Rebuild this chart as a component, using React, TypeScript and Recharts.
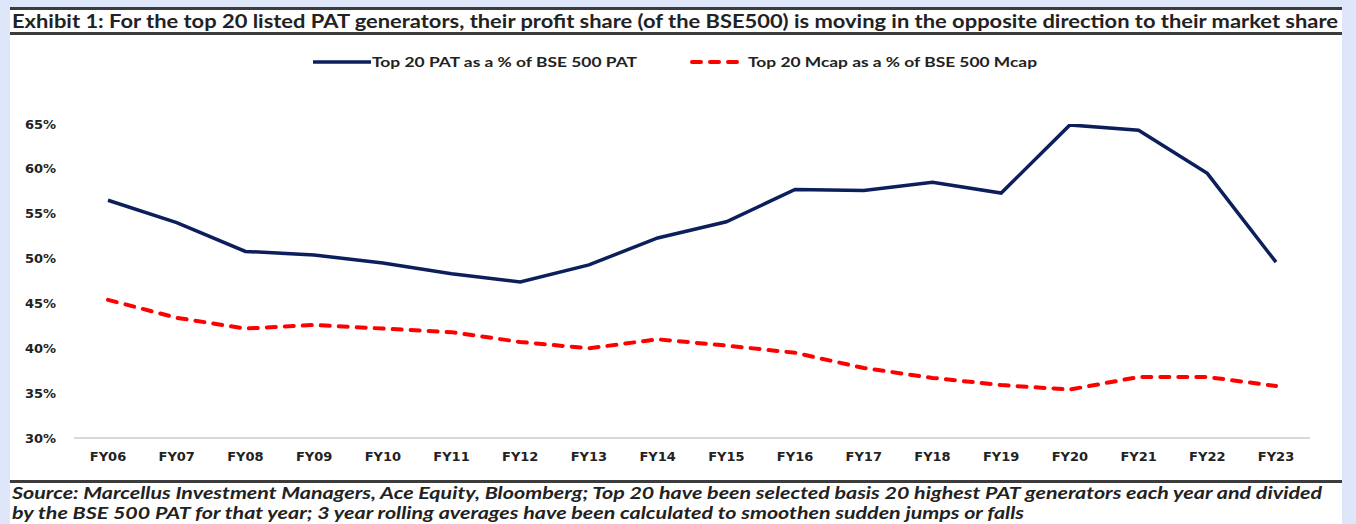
import React from 'react';
import { LineChart, Line, XAxis, YAxis } from 'recharts';

const categories = ['FY06', 'FY07', 'FY08', 'FY09', 'FY10', 'FY11', 'FY12', 'FY13', 'FY14', 'FY15', 'FY16', 'FY17', 'FY18', 'FY19', 'FY20', 'FY21', 'FY22', 'FY23'];
const patShare = [56.5, 54.0, 50.8, 50.4, 49.5, 48.3, 47.4, 49.3, 52.3, 54.1, 57.7, 57.6, 58.5, 57.3, 64.9, 64.3, 59.5, 49.6];
const mcapShare = [45.4, 43.4, 42.2, 42.6, 42.2, 41.8, 40.7, 40.0, 41.0, 40.3, 39.5, 37.8, 36.7, 35.9, 35.4, 36.8, 36.8, 35.8];
const yTicks = [30, 35, 40, 45, 50, 55, 60, 65];

const seriesNames = ['Top 20 PAT as a % of BSE 500 PAT', 'Top 20 Mcap as a % of BSE 500 Mcap'];
const titleText = 'Exhibit 1: For the top 20 listed PAT generators, their profit share (of the BSE500) is moving in the opposite direction to their market share';
const footerLines = [
  'Source: Marcellus Investment Managers, Ace Equity, Bloomberg; Top 20 have been selected basis 20 highest PAT generators each year and divided',
  'by the BSE 500 PAT for that year; 3 year rolling averages have been calculated to smoothen sudden jumps or falls',
];

const data = categories.map((c, i) => ({ cat: c, pat: patShare[i], mcap: mcapShare[i] }));

const NAVY = '#0c1f5c';
const RED = '#ff0000';
const TEXT = '#222222';

export default function App() {
  return (
    <div style={{ position: 'absolute', left: 0, top: 0, width: 1356, height: 524, background: '#dde7f9', overflow: 'hidden' }}>
      <div style={{ position: 'absolute', left: 10, top: 7, width: 1332, height: 517, background: '#ffffff' }} />
      <svg style={{ position: 'absolute', left: 0, top: 0 }} width={1356} height={524}>
        <rect x={10} y={7} width={1332} height={3} fill="#3c3c3c" />
        <rect x={10} y={32} width={1332} height={3} fill="#3c3c3c" />
        <text x={12} y={28} fontFamily="Lato, 'Open Sans', sans-serif" fontWeight={700} fontSize={18} fill={TEXT}
          textLength={1326} lengthAdjust="spacingAndGlyphs">{titleText}</text>
        <line x1={313} y1={62} x2={371} y2={62} stroke={NAVY} strokeWidth={3.5} />
        <text x={372} y={66.5} fontFamily="Lato, 'Open Sans', sans-serif" fontWeight={700} fontSize={13} fill={TEXT}
          textLength={265} lengthAdjust="spacingAndGlyphs">{seriesNames[0]}</text>
        <line x1={692} y1={62} x2={745} y2={62} stroke={RED} strokeWidth={4} strokeDasharray="9 9" strokeLinecap="round" />
        <text x={748} y={66.5} fontFamily="Lato, 'Open Sans', sans-serif" fontWeight={700} fontSize={13} fill={TEXT}
          textLength={289} lengthAdjust="spacingAndGlyphs">{seriesNames[1]}</text>
        <rect x={10} y={480} width={1332} height={3} fill="#3c3c3c" />
        <text x={12} y={499} fontFamily="Lato, 'Open Sans', sans-serif" fontWeight={700} fontStyle="italic" fontSize={17} fill={TEXT}
          textLength={1310} lengthAdjust="spacingAndGlyphs">{footerLines[0]}</text>
        <text x={12} y={519} fontFamily="Lato, 'Open Sans', sans-serif" fontWeight={700} fontStyle="italic" fontSize={17} fill={TEXT}
          textLength={1012} lengthAdjust="spacingAndGlyphs">{footerLines[1]}</text>
      </svg>
      <div style={{ position: 'absolute', left: 0, top: 0 }}>
        <LineChart width={1356} height={524} data={data} margin={{ top: 124, right: 46, left: 14, bottom: 56 }}>
          <XAxis dataKey="cat" interval={0} axisLine={{ stroke: '#d9d9d9', strokeWidth: 2 }} tickLine={false}
            tickSize={0} tickMargin={14} height={30} padding={{ left: 34, right: 34 }}
            tick={{ fill: TEXT, fontFamily: "'DejaVu Sans', Verdana, sans-serif", fontWeight: 700, fontSize: 13 }} />
          <YAxis domain={[30, 65]} ticks={yTicks} type="number" allowDataOverflow width={60}
            axisLine={false} tickLine={false} tickSize={0} tickMargin={18}
            tickFormatter={(v: number) => `${v}%`}
            tick={{ fill: TEXT, fontFamily: "'DejaVu Sans', Verdana, sans-serif", fontWeight: 700, fontSize: 13 }} />
          <Line type="linear" dataKey="pat" name={seriesNames[0]} stroke={NAVY} strokeWidth={3.5} dot={false} isAnimationActive={false} />
          <Line type="linear" dataKey="mcap" name={seriesNames[1]} stroke={RED} strokeWidth={4} strokeDasharray="9 9" strokeLinecap="round" dot={false} isAnimationActive={false} />
        </LineChart>
      </div>
    </div>
  );
}
